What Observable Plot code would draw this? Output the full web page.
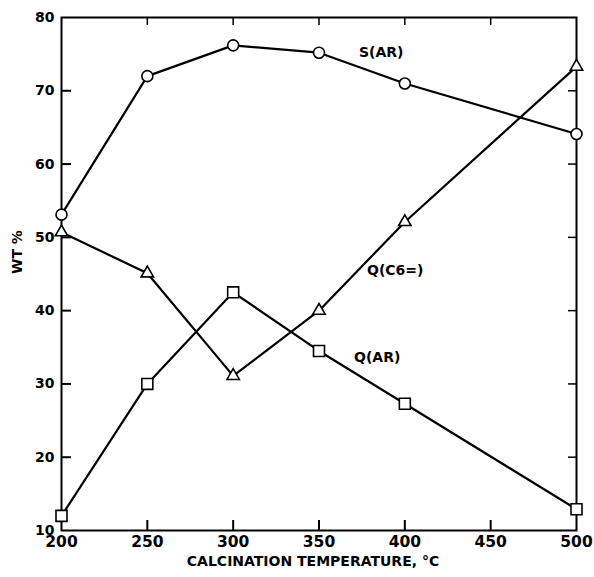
<!DOCTYPE html>
<html><head><meta charset="utf-8">
<script src="https://cdn.jsdelivr.net/npm/d3@7"></script>
<script src="https://cdn.jsdelivr.net/npm/@observablehq/plot@0.6"></script>
<style>body{margin:0;background:#fff} #chart svg{display:block}</style>
</head><body><div id="chart"></div>
<script>
const temps = [200, 250, 300, 350, 400, 500];
const sAR  = [53.1, 72.0, 76.2, 75.2, 71.0, 64.1];
const qC6  = [50.7, 45.1, 31.1, 40.0, 52.1, 73.3];
const qAR  = [12.0, 30.0, 42.5, 34.5, 27.3, 12.9];
const seriesNames = ["S(AR)", "Q(C6=)", "Q(AR)"];
const xTicks = [200, 250, 300, 350, 400, 450, 500];
const yTicks = [10, 20, 30, 40, 50, 60, 70, 80];
const xTitle = "CALCINATION TEMPERATURE, °C";
const yTitle = "WT %";

const W = 594, H = 577, mL = 61, mR = 18, mT = 17, mB = 47;
const fw = W - mL - mR, fh = H - mT - mB;
const rows = (vals) => temps.map((t, i) => ({t, v: vals[i]}));
const S = rows(sAR), C = rows(qC6), A = rows(qAR);
const lineOpts = {x: "t", y: "v", stroke: "#000", strokeWidth: 2.2};
const dotOpts = {x: "t", y: "v", stroke: "#000", fill: "#fff", strokeWidth: 1.6};
const bold = {fontWeight: "bold"};

const chart = Plot.plot({
  width: W, height: H,
  marginLeft: mL, marginRight: mR, marginTop: mT, marginBottom: mB,
  style: {fontFamily: "DejaVu Sans", background: "#fff", color: "#000"},
  x: {domain: [200, 500], label: null},
  y: {domain: [10, 80], label: null},
  marks: [
    Plot.ruleY(yTicks.slice(1, -1), {y: d => d, insetRight: fw - 10, strokeWidth: 2}),
    Plot.ruleY(yTicks.slice(1, -1), {y: d => d, insetLeft: fw - 8, strokeWidth: 1.5}),
    Plot.ruleX(xTicks.slice(1, -1), {x: d => d, insetTop: fh - 10, strokeWidth: 2}),
    Plot.ruleX(xTicks.slice(1, -1), {x: d => d, insetBottom: fh - 8, strokeWidth: 1.5}),
    Plot.frame({stroke: "#000", strokeWidth: 2}),
    Plot.axisX(xTicks, {tickSize: 0, tickPadding: 5, fontSize: 15.5, ...bold, label: null}),
    Plot.axisY(yTicks, {tickSize: 0, tickPadding: 7, fontSize: 14, ...bold, label: null}),
    Plot.line(S, lineOpts),
    Plot.line(C, lineOpts),
    Plot.line(A, lineOpts),
    Plot.dot(S, {...dotOpts, symbol: "circle", r: 5.5}),
    Plot.dot(C, {...dotOpts, symbol: "triangle", r: 4.6}),
    Plot.dot(A, {...dotOpts, symbol: "square", r: 6.2}),
    Plot.text([S[3]], {x: "t", y: "v", text: () => seriesNames[0], textAnchor: "start", dx: 40, dy: 0, fontSize: 14, ...bold}),
    Plot.text([C[3]], {x: "t", y: "v", text: () => seriesNames[1], textAnchor: "start", dx: 48, dy: -40, fontSize: 14, ...bold}),
    Plot.text([A[3]], {x: "t", y: "v", text: () => seriesNames[2], textAnchor: "start", dx: 35, dy: 7, fontSize: 14, ...bold}),
    Plot.text([xTitle], {frameAnchor: "bottom", dy: 35, dx: -6, fontSize: 14, ...bold}),
    Plot.text([yTitle], {frameAnchor: "left", dx: -44, rotate: -90, fontSize: 14, ...bold})
  ]
});
document.getElementById("chart").append(chart);
</script>
</body></html>
